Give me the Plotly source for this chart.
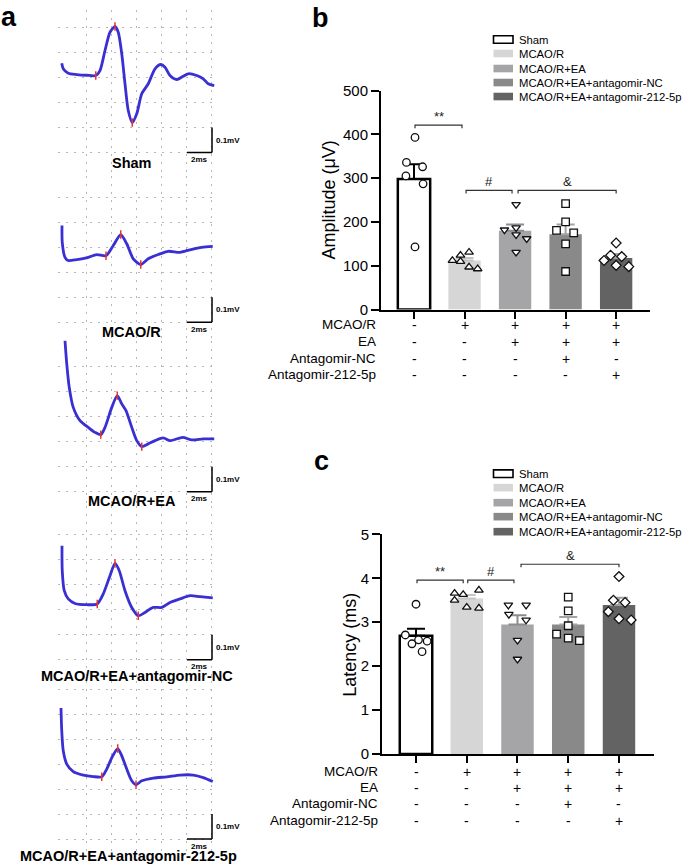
import plotly.graph_objects as go

W, H = 685, 864
FONT = "Liberation Sans, Arial, Helvetica, sans-serif"

# The captured picture maps figure row y to 8.5 + 0.98*y; positions below are given in
# picture pixels and converted back so that they land where intended.
V_OFF, V_SC = 8.5, 0.98


def px(x):
    return x / W


def py(y):
    return min(1.0, max(0.0, 1 - ((y - V_OFF) / V_SC) / H))


# ---------------- data ----------------
groups = ["Sham", "MCAO/R", "MCAO/R+EA", "MCAO/R+EA+antagomir-NC", "MCAO/R+EA+antagomir-212-5p"]

# panel a : representative waveforms (time in ms, voltage in mV)
wave_t = [
    [0.06, 0.18, 0.58, 1.26, 2.06, 2.78, 3.12, 3.52, 3.92, 4.32, 4.58, 4.86, 5.12, 5.38, 5.70,
     6.06, 6.46, 6.98, 7.52, 7.98, 8.32, 8.72, 9.26, 9.74, 10.18, 10.86, 11.38, 11.78, 12.26],
    [0.08, 0.10, 0.32, 0.58, 1.26, 2.06, 2.86, 3.60, 4.18, 4.78, 5.26, 5.78, 6.38, 6.98, 7.78,
     8.58, 9.52, 10.32, 11.26, 12.14],
    [0.32, 0.46, 0.66, 0.98, 1.52, 2.18, 2.72, 3.18, 3.52, 4.06, 4.50, 4.86, 5.20, 5.66, 6.06,
     6.46, 6.98, 7.52, 8.18, 8.72, 9.74, 10.46, 11.38, 12.26],
    [0.08, 0.10, 0.26, 0.58, 1.12, 2.06, 2.90, 3.38, 3.92, 4.32, 4.66, 5.12, 5.66, 6.18, 6.72,
     7.38, 8.06, 8.72, 9.52, 10.32, 11.12, 12.14],
    [0.00, 0.06, 0.18, 0.46, 0.98, 1.78, 2.58, 3.26, 3.66, 4.14, 4.54, 4.86, 5.26, 5.66, 6.00,
     6.46, 7.38, 8.46, 9.52, 10.58, 11.38, 12.14],
]
wave_v = [
    [0.057, 0.035, 0.017, 0.012, 0.009, 0.008, 0.028, 0.108, 0.181, 0.204, 0.181, 0.095, -0.025,
     -0.132, -0.180, -0.145, -0.065, -0.025, 0.035, 0.052, 0.041, 0.008, -0.008, 0.004, 0.015,
     0.008, -0.005, -0.025, -0.032],
    [0.087, 0.020, -0.040, -0.053, -0.049, -0.042, -0.029, -0.034, 0.007, 0.051, 0.014, -0.046,
     -0.069, -0.046, -0.029, -0.016, -0.020, -0.010, 0.000, 0.004],
    [0.404, 0.311, 0.217, 0.137, 0.084, 0.057, 0.037, 0.028, 0.057, 0.137, 0.184, 0.151, 0.124,
     0.057, 0.004, -0.020, -0.009, 0.004, 0.015, 0.004, 0.017, 0.007, 0.011, 0.011],
    [0.256, 0.156, 0.076, 0.043, 0.025, 0.020, 0.023, 0.063, 0.136, 0.185, 0.156, 0.076, 0.009,
     -0.024, -0.011, 0.009, 0.009, 0.029, 0.043, 0.056, 0.052, 0.047],
    [0.324, 0.233, 0.153, 0.100, 0.070, 0.056, 0.050, 0.049, 0.080, 0.133, 0.162, 0.133, 0.080,
     0.033, 0.017, 0.033, 0.044, 0.049, 0.056, 0.056, 0.046, 0.030],
]
# indices of the marked onset / peak / trough points
wave_marks = [[5, 9, 14], [7, 9, 12], [7, 10, 15], [6, 9, 13], [7, 10, 14]]
scale_ms = 2
scale_mv = 0.1

# panel b : amplitude (uV)
amp_mean = [298, 112, 180, 172, 118]
amp_sem = [34, 6, 14, 22, 9]
amp_points = [
    [393, 336, 326, 305, 287, 143],
    [112, 124, 131, 110, 97, 93],
    [240, 182, 187, 171, 162, 131],
    [242, 200, 181, 175, 150, 87],
    [152, 112, 124, 121, 101, 98],
]
amp_jitter = [
    [0.02, -0.15, 0.17, -0.16, 0.18, 0.02],
    [-0.24, -0.08, 0.09, -0.08, 0.09, 0.26],
    [0.02, -0.21, 0.02, 0.02, 0.23, 0.02],
    [0.0, 0.0, -0.18, 0.16, 0.0, 0.0],
    [0.0, -0.24, -0.11, 0.11, 0.0, 0.25],
]

# panel c : latency (ms)
lat_mean = [2.69, 3.54, 2.95, 2.95, 3.39]
lat_sem = [0.16, 0.08, 0.21, 0.17, 0.17]
lat_points = [
    [3.41, 2.71, 2.51, 2.57, 2.33, 2.60],
    [3.66, 3.63, 3.73, 3.50, 3.34, 3.32],
    [3.39, 3.39, 3.18, 3.05, 2.59, 2.16],
    [3.57, 3.26, 2.92, 2.73, 2.64, 2.58],
    [4.04, 3.50, 3.45, 3.24, 3.08, 3.05],
]
lat_jitter = [
    [0.0, -0.21, -0.08, 0.22, 0.12, 0.05],
    [-0.24, -0.07, 0.24, -0.24, 0.0, 0.24],
    [-0.18, 0.17, -0.17, 0.17, 0.0, 0.0],
    [0.0, 0.0, 0.0, -0.23, 0.0, 0.22],
    [0.0, -0.11, 0.12, -0.21, 0.0, 0.24],
]

table_rows = ["MCAO/R", "EA", "Antagomir-NC", "Antagomir-212-5p"]
table_signs = [
    ["-", "+", "+", "+", "+"],
    ["-", "-", "+", "+", "+"],
    ["-", "-", "-", "+", "-"],
    ["-", "-", "-", "-", "+"],
]

amp_ticks = [0, 100, 200, 300, 400, 500]
lat_ticks = [0, 1, 2, 3, 4, 5]

# significance brackets: (from, to, level, label)
amp_brackets = [(0.02, 0.95, 421, "**"), (1.03, 1.94, 272, "#"), (2.06, 4.0, 272, "&")]
lat_brackets = [(0.02, 0.93, 3.96, "**"), (1.02, 1.93, 3.96, "#"), (2.07, 4.0, 4.32, "&")]

# ---------------- styles ----------------
BLUE = "#3a2fd2"
RED = "#e8342c"
bar_colors = ["#ffffff", "#d6d6d6", "#a5a5a8", "#898989", "#636363"]
bar_edge = ["#000000", "#d6d6d6", "#a5a5a8", "#898989", "#636363"]
bar_edge_w = [2.5, 0, 0, 0, 0]
err_colors = ["#000000", "#c4c4c4", "#8c8c8e", "#a2a2a2", "#a0a0a0"]
symbols = ["circle", "triangle-up", "triangle-down", "square", "diamond"]

fig = go.Figure()
annotations = []
shapes = []

# ---------------- panel a ----------------
# (top px, bottom px, px of the 0 mV line) for each stacked recording
panel_rows = [(9, 175, 77), (175, 340, 246.7), (340, 505, 441), (505, 680, 609), (680, 855, 788.3)]
grid_v = [
    [-0.3, -0.2, -0.1, 0, 0.1, 0.2],
    [-0.3, -0.2, -0.1, 0, 0.1, 0.2],
    [-0.2, -0.1, 0, 0.1, 0.2, 0.3],
    [-0.2, -0.1, 0, 0.1, 0.2, 0.3],
    [-0.2, -0.1, 0, 0.1, 0.2, 0.3, 0.4],
]
scalebar_base = [-0.3, -0.3, -0.2, -0.2, -0.2]
label_pos = [(131.7, 162.7), (131.7, 331.7), (131.7, 500), (136.7, 675.5), (128.3, 855)]
MV_PX = 250.0  # px per mV
layout_axes = {}
for k in range(5):
    n = "" if k == 0 else str(k + 1)
    xa, ya = "x" + n, "y" + n
    top, bot, v0 = panel_rows[k]
    fig.add_trace(go.Scatter(
        x=wave_t[k], y=wave_v[k], mode="lines",
        line=dict(color=BLUE, width=2.8, shape="spline", smoothing=0.7),
        xaxis=xa, yaxis=ya, showlegend=False, hoverinfo="skip"))
    mi = wave_marks[k]
    fig.add_trace(go.Scatter(
        x=[wave_t[k][i] for i in mi], y=[wave_v[k][i] for i in mi], mode="markers",
        marker=dict(symbol="line-ns", size=6, line=dict(color=RED, width=1.5)),
        xaxis=xa, yaxis=ya, showlegend=False, hoverinfo="skip"))
    layout_axes["xaxis" + n] = dict(
        domain=[px(58), px(218)], range=[-0.24, 12.56], anchor=ya,
        tickvals=[2, 4, 6, 8, 10, 12], showticklabels=False, ticks="",
        showgrid=True, gridcolor="#b8b8b8", gridwidth=1, griddash="2px,6px",
        zeroline=False, showline=False, fixedrange=True)
    layout_axes["yaxis" + n] = dict(
        domain=[py(bot), py(top)], range=[(v0 - bot) / MV_PX, (v0 - top) / MV_PX], anchor=xa,
        tickvals=grid_v[k], showticklabels=False, ticks="",
        showgrid=True, gridcolor="#b8b8b8", gridwidth=1, griddash="2px,6px",
        zeroline=False, showline=False, fixedrange=True)
    b = scalebar_base[k]
    xr = 12.08
    shapes.append(dict(type="line", xref=xa, yref=ya, x0=xr, x1=xr, y0=b, y1=b + scale_mv,
                       line=dict(color="black", width=1.5)))
    shapes.append(dict(type="line", xref=xa, yref=ya, x0=xr - scale_ms, x1=xr, y0=b, y1=b,
                       line=dict(color="black", width=1.5)))
    annotations.append(dict(xref=xa, yref=ya, x=xr, y=b + scale_mv / 2, xanchor="left",
                            yanchor="middle", xshift=2, text="<b>0.1mV</b>", showarrow=False,
                            font=dict(family=FONT, size=8, color="black")))
    annotations.append(dict(xref=xa, yref=ya, x=xr - scale_ms / 2, y=b, xanchor="center",
                            yanchor="top", yshift=-0.5, text="<b>2ms</b>", showarrow=False,
                            font=dict(family=FONT, size=8, color="black")))
    lx, ly = label_pos[k]
    annotations.append(dict(xref="paper", yref="paper", x=px(lx), y=py(ly), xanchor="center",
                            yanchor="middle", text="<b>%s</b>" % groups[k], showarrow=False,
                            font=dict(family=FONT, size=14.5, color="black")))


# ---------------- bar panels ----------------
def bar_panel(n, means, sems, points, jitter, ticks, xdom, ydom, xr, title, title_xy,
              brackets, tick_d, row_y, label_right, legend_y):
    xa, ya = "x" + n, "y" + n
    for j in range(5):
        fig.add_trace(go.Bar(
            x=[j], y=[means[j]], width=0.64,
            marker=dict(color=bar_colors[j], line=dict(color=bar_edge[j], width=bar_edge_w[j])),
            error_y=dict(type="data", array=[sems[j]], arrayminus=[0], symmetric=False,
                         color=err_colors[j], thickness=2, width=9),
            xaxis=xa, yaxis=ya, showlegend=False, hoverinfo="skip"))
    for j in range(5):
        fig.add_trace(go.Scatter(
            x=[j + d for d in jitter[j]], y=points[j], mode="markers",
            marker=dict(symbol=symbols[j], size=7.5, color="white",
                        line=dict(color="#111111", width=1.3)),
            xaxis=xa, yaxis=ya, showlegend=False, hoverinfo="skip"))
    layout_axes["xaxis" + n] = dict(
        domain=[px(xdom[0]), px(xdom[1])], range=xr, anchor=ya,
        tickvals=[0, 1, 2, 3, 4], showticklabels=False, ticks="outside", ticklen=7,
        tickwidth=2, tickcolor="black", showline=True, linecolor="black", linewidth=2,
        showgrid=False, zeroline=False, fixedrange=True)
    layout_axes["yaxis" + n] = dict(
        domain=[py(ydom[0]), py(ydom[1])], range=[ticks[0], ticks[-1]], anchor=xa,
        tickvals=ticks, ticks="outside", ticklen=8, tickwidth=2, tickcolor="black",
        showline=True, linecolor="black", linewidth=2, showgrid=False, zeroline=False,
        tickfont=dict(family=FONT, size=15, color="black"), fixedrange=True)
    annotations.append(dict(xref="paper", yref="paper", x=px(title_xy[0]), y=py(title_xy[1]),
                            text=title, textangle=-90, showarrow=False, xanchor="center",
                            yanchor="middle", font=dict(family=FONT, size=18, color="black")))
    for (x0, x1, lev, lab) in brackets:
        shapes.append(dict(type="path", xref=xa, yref=ya,
                           path="M %g,%g L %g,%g L %g,%g L %g,%g" % (
                               x0, lev - tick_d, x0, lev, x1, lev, x1, lev - tick_d),
                           line=dict(color="#333333", width=1.2)))
        annotations.append(dict(xref=xa, yref=ya, x=(x0 + x1) / 2, y=lev, text=lab,
                                showarrow=False, xanchor="center", yanchor="bottom",
                                yshift=-1, font=dict(family=FONT, size=13, color="#222222")))
    for r, rname in enumerate(table_rows):
        annotations.append(dict(xref="paper", yref="paper", x=px(label_right), y=py(row_y[r]),
                                text=rname, showarrow=False, xanchor="right", yanchor="middle",
                                font=dict(family=FONT, size=13.5, color="black")))
        for j in range(5):
            annotations.append(dict(xref=xa, yref="paper", x=j, y=py(row_y[r]),
                                    text=table_signs[r][j], showarrow=False, xanchor="center",
                                    yanchor="middle",
                                    font=dict(family=FONT, size=14, color="black")))
    for j in range(5):
        yc = legend_y[j]
        shapes.append(dict(type="rect", xref="paper", yref="paper", x0=px(493.5), x1=px(513),
                           y0=py(yc + 3.8), y1=py(yc - 3.8), fillcolor=bar_colors[j],
                           line=dict(color="black" if j == 0 else bar_colors[j],
                                     width=1.6 if j == 0 else 0)))
        annotations.append(dict(xref="paper", yref="paper", x=px(517), y=py(yc), text=groups[j],
                                showarrow=False, xanchor="left", yanchor="middle",
                                font=dict(family=FONT, size=11.3, color="black")))


bar_panel("6", amp_mean, amp_sem, amp_points, amp_jitter, amp_ticks,
          (381, 650), (309, 90), [-0.653, 4.67], "Amplitude (μV)", (329, 200),
          amp_brackets, 7, [324, 341, 358, 374], 378, [39, 53, 68, 82, 96])
bar_panel("7", lat_mean, lat_sem, lat_points, lat_jitter, lat_ticks,
          (382, 654), (753.3, 533.7), [-0.67, 4.69], "Latency (ms)", (350, 644),
          lat_brackets, 0.07, [771, 787, 803, 820], 380, [473, 487, 502, 516, 531])

# panel letters
for lab, (lx, ly) in zip(["a", "b", "c"], [(9, 16), (320, 17), (321, 460)]):
    annotations.append(dict(xref="paper", yref="paper", x=px(lx), y=py(ly), text="<b>%s</b>" % lab,
                            showarrow=False, xanchor="center", yanchor="middle",
                            font=dict(family=FONT, size=27, color="black")))

fig.update_layout(
    width=W, height=H, autosize=False,
    margin=dict(l=0, r=0, t=0, b=0, pad=0),
    paper_bgcolor="white", plot_bgcolor="white",
    barmode="overlay", showlegend=False,
    annotations=annotations, shapes=shapes,
    font=dict(family=FONT, color="black"),
    **layout_axes,
)

fig.write_html(
    "out.html",
    config={"displayModeBar": False},
    post_script=(
        "document.documentElement.style.margin='0px';"
        "document.documentElement.style.overflow='hidden';"
        "document.body.style.margin='0px';"
        "document.body.style.overflow='hidden';"
        "var gd=document.getElementById('{plot_id}');"
        "gd.style.position='fixed';gd.style.top='0px';gd.style.left='0px';"
    ),
)
